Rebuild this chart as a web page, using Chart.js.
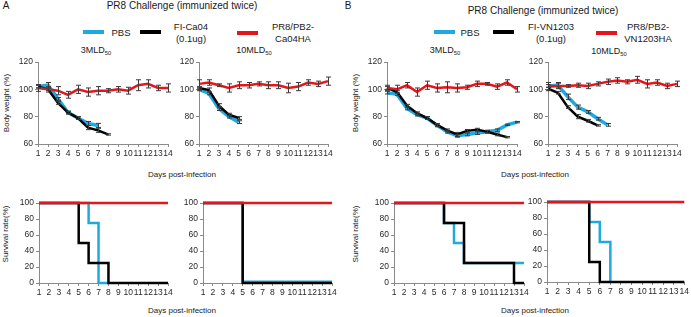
<!DOCTYPE html>
<html><head><meta charset="utf-8">
<script src="https://cdn.jsdelivr.net/npm/chart.js@4.4.1/dist/chart.umd.min.js"></script>
<style>
body{margin:0;width:691px;height:317px;position:relative;background:#fff;font-family:"Liberation Sans",Arial,sans-serif;overflow:hidden}
canvas{position:absolute;left:0;top:0}
.t{position:absolute;white-space:nowrap;color:#1a1a1a;transform:translate(-50%,-50%);line-height:1.25;text-align:center}
.bar{position:absolute;height:4px;width:21px}
.rot{transform:translate(-50%,-50%) rotate(-90deg)}
sub{font-size:65%;vertical-align:-2px}
</style></head><body>

<div class="t" style="left:6px;top:6px;font-size:10px">A</div>
<div class="t" style="left:182px;top:6px;font-size:10px">PR8 Challenge (immunized twice)</div>
<div class="t" style="left:348px;top:6px;font-size:10px">B</div>
<div class="t" style="left:543px;top:11px;font-size:10px">PR8 Challenge (immunized twice)</div>

<div class="bar" style="left:83px;top:30px;background:#1fa9e1"></div>
<div class="t" style="left:121px;top:33px;font-size:9.5px">PBS</div>
<div class="bar" style="left:140px;top:30px;background:#000"></div>
<div class="t" style="left:191px;top:33px;font-size:9.5px">FI-Ca04<br>(0.1ug)</div>
<div class="bar" style="left:237px;top:31px;background:#e4161c"></div>
<div class="t" style="left:293px;top:33px;font-size:9.5px">PR8/PB2-<br>Ca04HA</div>

<div class="bar" style="left:434px;top:30px;background:#1fa9e1"></div>
<div class="t" style="left:470px;top:33px;font-size:9.5px">PBS</div>
<div class="bar" style="left:493px;top:30px;background:#000"></div>
<div class="t" style="left:551px;top:33px;font-size:9.5px">FI-VN1203<br>(0.1ug)</div>
<div class="bar" style="left:596px;top:31px;background:#e4161c"></div>
<div class="t" style="left:648px;top:33px;font-size:9.5px">PR8/PB2-<br>VN1203HA</div>

<div class="t" style="left:96px;top:51px;font-size:9px">3MLD<sub>50</sub></div>
<div class="t" style="left:254px;top:51px;font-size:9px">10MLD<sub>50</sub></div>
<div class="t" style="left:445px;top:51px;font-size:9px">3MLD<sub>50</sub></div>
<div class="t" style="left:609px;top:52px;font-size:9px">10MLD<sub>50</sub></div>

<div class="t rot" style="left:7px;top:103px;font-size:8px">Body weight (%)</div>
<div class="t rot" style="left:356px;top:103px;font-size:8px">Body weight (%)</div>
<div class="t rot" style="left:6px;top:234px;font-size:8px">Survival rate(%)</div>
<div class="t rot" style="left:356px;top:234px;font-size:8px">Survival rate(%)</div>

<div class="t" style="left:182px;top:175px;font-size:8px">Days post-infection</div>
<div class="t" style="left:182px;top:311px;font-size:8px">Days post-infection</div>
<div class="t" style="left:535px;top:175px;font-size:8px">Days post-infection</div>
<div class="t" style="left:535px;top:311px;font-size:8px">Days post-infection</div>

<canvas id="c1" width="691" height="317"></canvas>
<canvas id="c2" width="691" height="317"></canvas>
<canvas id="c3" width="691" height="317"></canvas>
<canvas id="c4" width="691" height="317"></canvas>
<canvas id="c5" width="691" height="317"></canvas>
<canvas id="c6" width="691" height="317"></canvas>
<canvas id="c7" width="691" height="317"></canvas>
<canvas id="c8" width="691" height="317"></canvas>

<script>
// ---- data ----
const days = ['1','2','3','4','5','6','7','8','9','10','11','12','13','14'];
const weightTicks = [60, 80, 100, 120];
const survivalTicks = [0, 20, 40, 60, 80, 100];

// Body weight, panel A, 3MLD50
const pr8A3 = [101,100,99,96,100,98,99,99,100,99,103,104,101,101];
const pr8A3Err = [2.5,2,3,2.5,3,3,3,1.5,2,2.5,4,3,2,3];
const fiA3 = [102,100,90,83,79,72,70,67];
const fiA3Err = [1,1,1,1,1,1.5,1.5,0.5];
const pbsA3 = [102,103,93,83,79,75,73.6];
const pbsA3Err = [1,2,1,1,1,1.5,1.5];

// Body weight, panel A, 10MLD50
const pr8A10 = [104,105,103,101,103,103,104,103,103,101,102,105,104,106];
const pr8A10Err = [3,2,1,3,2.5,2,1.5,2.5,2.5,3.5,3,2,2,3];
const fiA10 = [101,99.5,88,81.5,79];
const fiA10Err = [1,1.5,1.5,1,1];
const pbsA10 = [100,97,86,80,76];
const pbsA10Err = [1,1,1.5,1,1];

// Body weight, panel B, 3MLD50
const pr8B3 = [101,100,103,98,103,101,101.5,101,101.5,104,104,102,105,100];
const pr8B3Err = [2,3,2,3,3,3,4,3,1.5,2,1,2,2,2];
const fiB3 = [101,98,88,82.5,79,74,70,67,69.6,70.5,69,67,65];
const fiB3Err = [1,1,1,1,1,1,1,1.5,1,1,1,1,0.5];
const pbsB3 = [97.6,96.4,86,81.5,79,73.6,69,66,67,68,69,70,74,76];
const pbsB3Err = [1,1,1,1,1,1,1,1,1,1,1,1,0.5,0.5];

// Body weight, panel B, 10MLD50
const pr8B10 = [102,102.5,102.5,103,102.5,104,105.5,106.5,105.5,107,104,105,102.5,104];
const pr8B10Err = [3,2,1,1.5,2,1.5,2,2,1.5,2.5,3,2,2,2];
const fiB10 = [100.5,97.5,87,80,77,73.6];
const fiB10Err = [1,1,1,1.5,1,0.5];
const pbsB10 = [102.5,103,94.5,87,83.5,78.5,74];
const pbsB10Err = [1,2,2,1.5,1,1,1];

// Survival (%)
const survPr8 = [100,100,100,100,100,100,100,100,100,100,100,100,100,100];
const survFiA3 = [100,100,100,100,50,25,25,0,0,0,0,0,0,0];
const survPbsA3 = [100,100,100,100,100,75,0,0];
const survFiA10 = [100,100,100,100,0,0,0,0,0,0,0,0,0,0];
const survPbsA10 = [100,100,100,100,1.5,1.5,1.5,1.5,1.5,1.5,1.5,1.5,1.5,1.5];
const survFiB3 = [100,100,100,100,100,75,75,25,25,25,25,25,0,0];
const survPbsB3 = [100,100,100,100,100,75,50,25,25,25,25,25,25,25];
const survFiB10 = [100,100,100,100,25,0,0,0,0,0,0,0,0,0];
const survPbsB10 = [100,100,100,100,75,50,0];

// ---- styling ----
const RED = '#e4161c', BLACK = '#000000', CYAN = '#1fa9e1';
const AXIS = '#8a8a8a';
const FONT = "'Liberation Sans', Arial, sans-serif";
const YW = 28, XH = 16;

const errorBars = {
  id: 'errorBars',
  afterDatasetsDraw(chart) {
    const ctx = chart.ctx, y = chart.scales.y;
    ctx.save();
    ctx.strokeStyle = '#3a3a3a';
    ctx.lineWidth = 1;
    chart.data.datasets.forEach((ds, i) => {
      if (!ds.errors) return;
      const meta = chart.getDatasetMeta(i);
      meta.data.forEach((pt, j) => {
        const v = ds.data[j], e = ds.errors[j];
        if (v == null || !e) return;
        const x = Math.round(pt.x) + 0.5;
        const y1 = y.getPixelForValue(v + e), y2 = y.getPixelForValue(v - e);
        ctx.beginPath();
        ctx.moveTo(x, y1); ctx.lineTo(x, y2);
        ctx.moveTo(x - 2.5, y1); ctx.lineTo(x + 2.5, y1);
        ctx.moveTo(x - 2.5, y2); ctx.lineTo(x + 2.5, y2);
        ctx.stroke();
      });
    });
    ctx.restore();
  }
};

function axisCommon() {
  return {
    grid: {display: true, drawOnChartArea: false, drawTicks: true, tickLength: 3, color: AXIS, lineWidth: 1},
    border: {display: true, color: AXIS, width: 1},
    ticks: {font: {size: 8.5, family: FONT}, color: '#2a2a2a', padding: 2}
  };
}

function makeChart(id, area, datasets, yMin, yMax, yTicks, stepped) {
  const xAxis = axisCommon();
  xAxis.type = 'category';
  xAxis.offset = false;
  xAxis.ticks.maxRotation = 0;
  xAxis.ticks.autoSkip = false;
  xAxis.afterFit = s => { s.height = XH; };
  const yAxis = axisCommon();
  yAxis.min = yMin; yAxis.max = yMax;
  yAxis.afterBuildTicks = s => { s.ticks = yTicks.map(v => ({value: v})); };
  yAxis.afterFit = s => { s.width = YW; };
  new Chart(document.getElementById(id), {
    type: 'line',
    data: {
      labels: days,
      datasets: datasets.map(d => ({
        data: d.data, errors: d.errors, borderColor: d.color, backgroundColor: d.color,
        borderWidth: d.width, pointRadius: 0, tension: 0, fill: false, clip: false,
        stepped: stepped ? 'before' : false, spanGaps: false
      }))
    },
    options: {
      responsive: false, animation: false, events: [],
      layout: {padding: {left: area.l - YW, right: 691 - area.r, top: area.t, bottom: 317 - area.b - XH}},
      plugins: {legend: {display: false}, tooltip: {enabled: false}, title: {display: false}},
      scales: {x: xAxis, y: yAxis}
    },
    plugins: [errorBars]
  });
}

// weight panels
makeChart('c1', {l: 38, r: 168, t: 62, b: 144}, [
  {data: pr8A3, errors: pr8A3Err, color: RED, width: 2.5},
  {data: fiA3, errors: fiA3Err, color: BLACK, width: 2.5},
  {data: pbsA3, errors: pbsA3Err, color: CYAN, width: 3.5}
], 60, 120, weightTicks, false);
makeChart('c2', {l: 199, r: 328, t: 62, b: 144}, [
  {data: pr8A10, errors: pr8A10Err, color: RED, width: 2.5},
  {data: fiA10, errors: fiA10Err, color: BLACK, width: 2.5},
  {data: pbsA10, errors: pbsA10Err, color: CYAN, width: 3.5}
], 60, 120, weightTicks, false);
makeChart('c3', {l: 387, r: 517, t: 62, b: 144}, [
  {data: pr8B3, errors: pr8B3Err, color: RED, width: 2.5},
  {data: fiB3, errors: fiB3Err, color: BLACK, width: 2.5},
  {data: pbsB3, errors: pbsB3Err, color: CYAN, width: 3.5}
], 60, 120, weightTicks, false);
makeChart('c4', {l: 548, r: 677, t: 62, b: 144}, [
  {data: pr8B10, errors: pr8B10Err, color: RED, width: 2.5},
  {data: fiB10, errors: fiB10Err, color: BLACK, width: 2.5},
  {data: pbsB10, errors: pbsB10Err, color: CYAN, width: 3.5}
], 60, 120, weightTicks, false);

// survival panels
makeChart('c5', {l: 39, r: 168, t: 203, b: 283}, [
  {data: survPr8, color: RED, width: 2.5},
  {data: survFiA3, color: BLACK, width: 2.5},
  {data: survPbsA3, color: CYAN, width: 2.5}
], 0, 100, survivalTicks, true);
makeChart('c6', {l: 203, r: 332, t: 203, b: 283}, [
  {data: survPr8, color: RED, width: 2.5},
  {data: survFiA10, color: BLACK, width: 2.5},
  {data: survPbsA10, color: CYAN, width: 2.5}
], 0, 100, survivalTicks, true);
makeChart('c7', {l: 394, r: 524, t: 203, b: 283}, [
  {data: survPr8, color: RED, width: 2.5},
  {data: survFiB3, color: BLACK, width: 2.5},
  {data: survPbsB3, color: CYAN, width: 2.5}
], 0, 100, survivalTicks, true);
makeChart('c8', {l: 547, r: 686, t: 202, b: 282}, [
  {data: survPr8, color: RED, width: 2.5},
  {data: survFiB10, color: BLACK, width: 2.5},
  {data: survPbsB10, color: CYAN, width: 2.5}
], 0, 100, survivalTicks, true);
</script>
</body></html>
